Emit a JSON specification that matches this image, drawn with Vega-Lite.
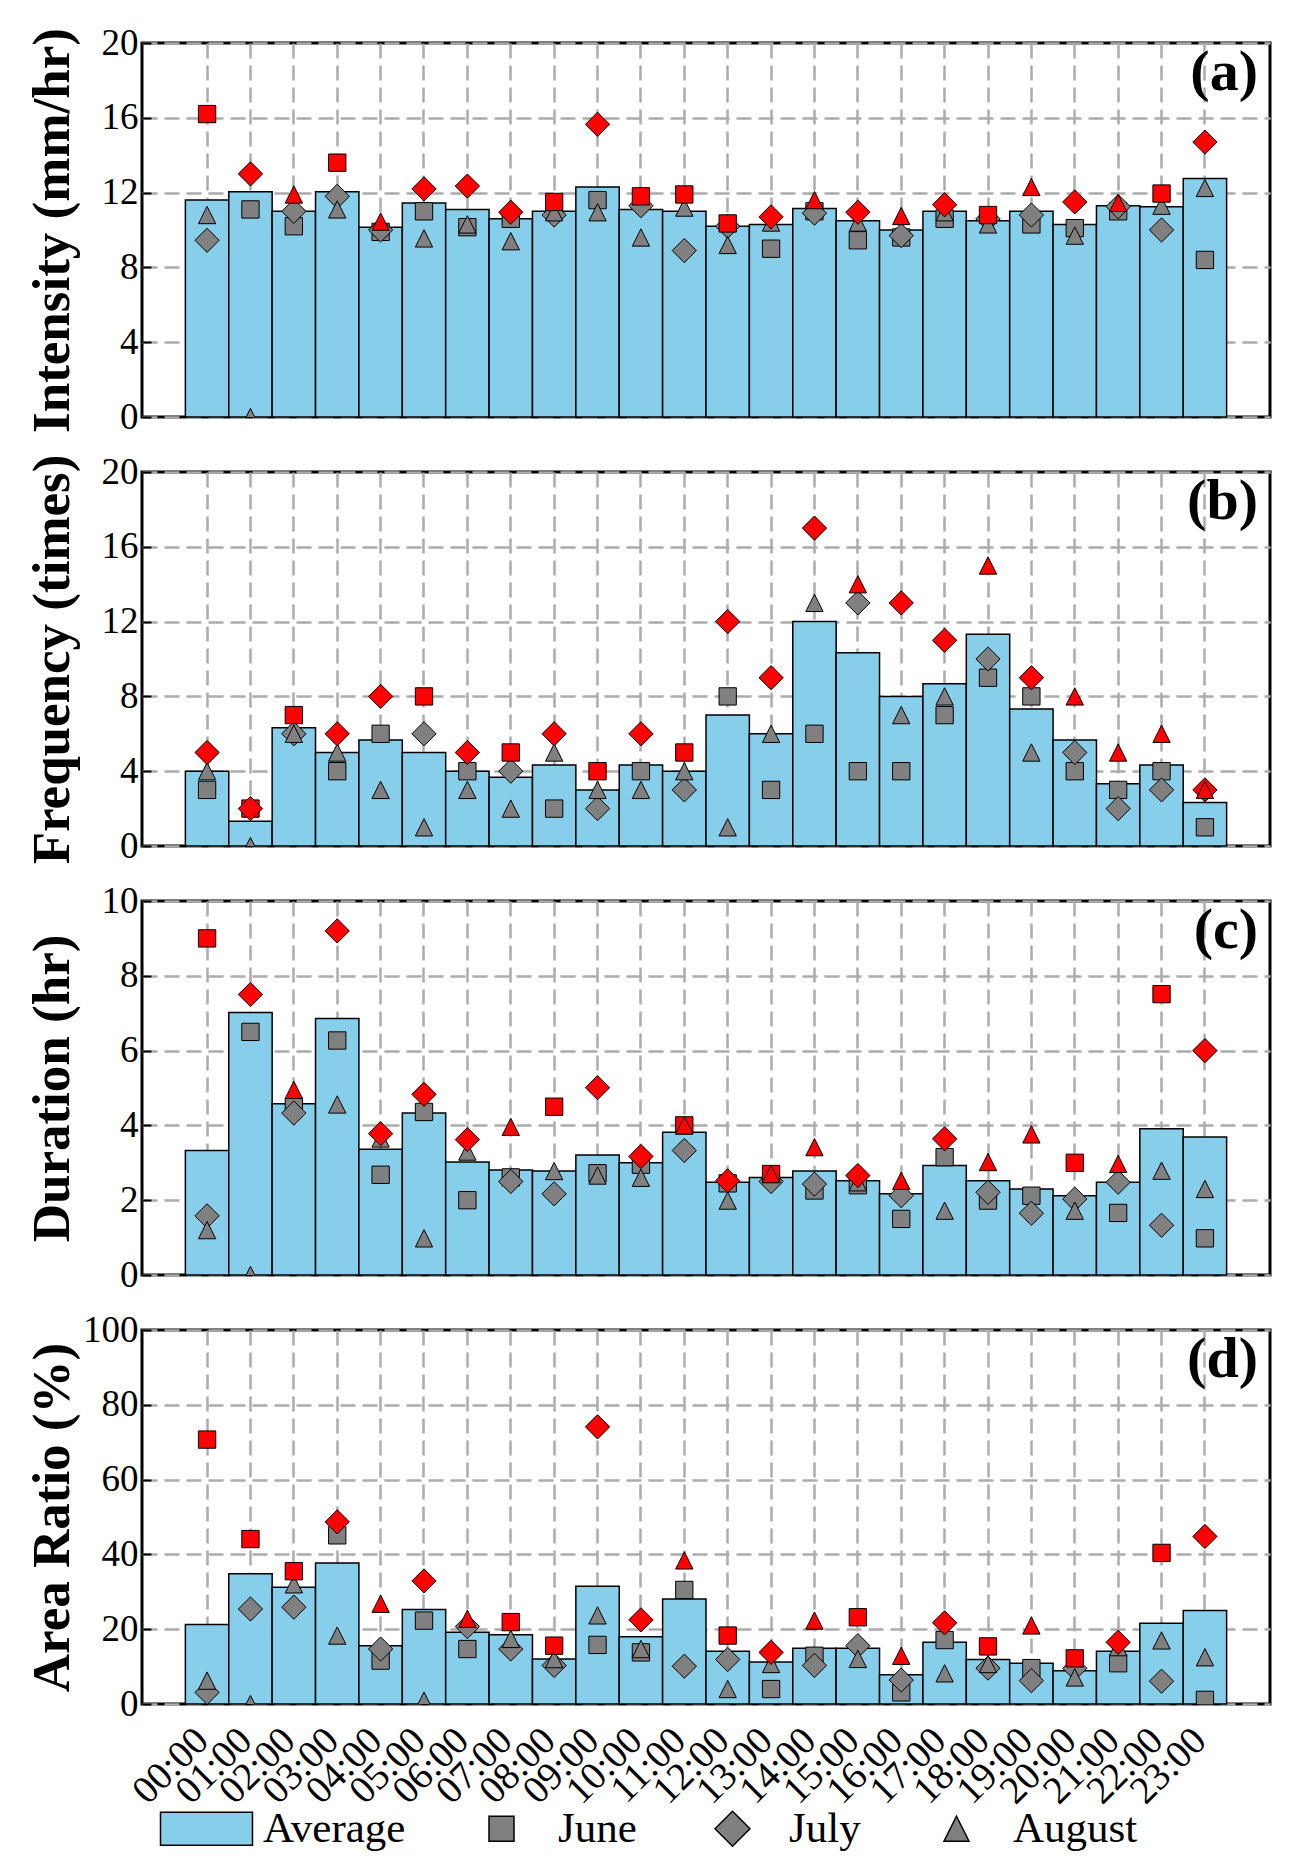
{
  "$schema": "https://vega.github.io/schema/vega-lite/v6.json",
  "padding": {"left": 24, "top": 22, "right": 5, "bottom": 5},
  "bounds": "flush",
  "spacing": 55,
  "datasets": {
    "hourly": [
      {"panel": "a", "hour": "00:00", "Average": 11.6, "June": 16.2, "July": 9.45, "August": 10.8},
      {"panel": "a", "hour": "01:00", "Average": 12.05, "June": 11.1, "July": 13.0, "August": 0.0},
      {"panel": "a", "hour": "02:00", "Average": 11.0, "June": 10.2, "July": 11.0, "August": 11.9},
      {"panel": "a", "hour": "03:00", "Average": 12.05, "June": 13.6, "July": 11.8, "August": 11.1},
      {"panel": "a", "hour": "04:00", "Average": 10.15, "June": 9.9, "July": 10.0, "August": 10.45},
      {"panel": "a", "hour": "05:00", "Average": 11.45, "June": 11.0, "July": 12.2, "August": 9.55},
      {"panel": "a", "hour": "06:00", "Average": 11.1, "June": 10.15, "July": 12.35, "August": 10.3},
      {"panel": "a", "hour": "07:00", "Average": 10.6, "June": 10.6, "July": 10.95, "August": 9.4},
      {"panel": "a", "hour": "08:00", "Average": 11.0, "June": 11.5, "July": 10.8, "August": 10.95},
      {"panel": "a", "hour": "09:00", "Average": 12.3, "June": 11.6, "July": 15.65, "August": 10.95},
      {"panel": "a", "hour": "10:00", "Average": 11.1, "June": 11.8, "July": 11.3, "August": 9.6},
      {"panel": "a", "hour": "11:00", "Average": 11.0, "June": 11.9, "July": 8.9, "August": 11.2},
      {"panel": "a", "hour": "12:00", "Average": 10.2, "June": 10.35, "July": 10.2, "August": 9.2},
      {"panel": "a", "hour": "13:00", "Average": 10.3, "June": 9.0, "July": 10.7, "August": 10.4},
      {"panel": "a", "hour": "14:00", "Average": 11.15, "June": 11.0, "July": 10.9, "August": 11.6},
      {"panel": "a", "hour": "15:00", "Average": 10.5, "June": 9.45, "July": 10.95, "August": 10.4},
      {"panel": "a", "hour": "16:00", "Average": 10.0, "June": 9.6, "July": 9.7, "August": 10.75},
      {"panel": "a", "hour": "17:00", "Average": 11.0, "June": 10.6, "July": 11.35, "August": 10.95},
      {"panel": "a", "hour": "18:00", "Average": 10.5, "June": 10.8, "July": 10.6, "August": 10.3},
      {"panel": "a", "hour": "19:00", "Average": 11.0, "June": 10.3, "July": 10.8, "August": 12.3},
      {"panel": "a", "hour": "20:00", "Average": 10.3, "June": 10.1, "July": 11.5, "August": 9.7},
      {"panel": "a", "hour": "21:00", "Average": 11.3, "June": 11.0, "July": 11.25, "August": 11.45},
      {"panel": "a", "hour": "22:00", "Average": 11.25, "June": 11.95, "July": 10.0, "August": 11.3},
      {"panel": "a", "hour": "23:00", "Average": 12.75, "June": 8.4, "July": 14.7, "August": 12.25},
      {"panel": "b", "hour": "00:00", "Average": 4.0, "June": 3, "July": 5, "August": 4},
      {"panel": "b", "hour": "01:00", "Average": 1.33, "June": 2, "July": 2, "August": 0},
      {"panel": "b", "hour": "02:00", "Average": 6.33, "June": 7, "July": 6, "August": 6},
      {"panel": "b", "hour": "03:00", "Average": 5.0, "June": 4, "July": 6, "August": 5},
      {"panel": "b", "hour": "04:00", "Average": 5.67, "June": 6, "July": 8, "August": 3},
      {"panel": "b", "hour": "05:00", "Average": 5.0, "June": 8, "July": 6, "August": 1},
      {"panel": "b", "hour": "06:00", "Average": 4.0, "June": 4, "July": 5, "August": 3},
      {"panel": "b", "hour": "07:00", "Average": 3.67, "June": 5, "July": 4, "August": 2},
      {"panel": "b", "hour": "08:00", "Average": 4.33, "June": 2, "July": 6, "August": 5},
      {"panel": "b", "hour": "09:00", "Average": 3.0, "June": 4, "July": 2, "August": 3},
      {"panel": "b", "hour": "10:00", "Average": 4.33, "June": 4, "July": 6, "August": 3},
      {"panel": "b", "hour": "11:00", "Average": 4.0, "June": 5, "July": 3, "August": 4},
      {"panel": "b", "hour": "12:00", "Average": 7.0, "June": 8, "July": 12, "August": 1},
      {"panel": "b", "hour": "13:00", "Average": 6.0, "June": 3, "July": 9, "August": 6},
      {"panel": "b", "hour": "14:00", "Average": 12.0, "June": 6, "July": 17, "August": 13},
      {"panel": "b", "hour": "15:00", "Average": 10.33, "June": 4, "July": 13, "August": 14},
      {"panel": "b", "hour": "16:00", "Average": 8.0, "June": 4, "July": 13, "August": 7},
      {"panel": "b", "hour": "17:00", "Average": 8.67, "June": 7, "July": 11, "August": 8},
      {"panel": "b", "hour": "18:00", "Average": 11.33, "June": 9, "July": 10, "August": 15},
      {"panel": "b", "hour": "19:00", "Average": 7.33, "June": 8, "July": 9, "August": 5},
      {"panel": "b", "hour": "20:00", "Average": 5.67, "June": 4, "July": 5, "August": 8},
      {"panel": "b", "hour": "21:00", "Average": 3.33, "June": 3, "July": 2, "August": 5},
      {"panel": "b", "hour": "22:00", "Average": 4.33, "June": 4, "July": 3, "August": 6},
      {"panel": "b", "hour": "23:00", "Average": 2.33, "June": 1, "July": 3, "August": 3},
      {"panel": "c", "hour": "00:00", "Average": 3.33, "June": 9.0, "July": 1.58, "August": 1.2},
      {"panel": "c", "hour": "01:00", "Average": 7.02, "June": 6.5, "July": 7.5, "August": 0},
      {"panel": "c", "hour": "02:00", "Average": 4.58, "June": 4.5, "July": 4.33, "August": 4.95},
      {"panel": "c", "hour": "03:00", "Average": 6.86, "June": 6.27, "July": 9.2, "August": 4.56},
      {"panel": "c", "hour": "04:00", "Average": 3.36, "June": 2.68, "July": 3.78, "August": 3.65},
      {"panel": "c", "hour": "05:00", "Average": 4.33, "June": 4.36, "July": 4.83, "August": 0.98},
      {"panel": "c", "hour": "06:00", "Average": 3.02, "June": 2.0, "July": 3.62, "August": 3.3},
      {"panel": "c", "hour": "07:00", "Average": 2.81, "June": 2.61, "July": 2.5, "August": 3.96},
      {"panel": "c", "hour": "08:00", "Average": 2.78, "June": 4.5, "July": 2.17, "August": 2.78},
      {"panel": "c", "hour": "09:00", "Average": 3.21, "June": 2.72, "July": 5.01, "August": 2.66},
      {"panel": "c", "hour": "10:00", "Average": 3.0, "June": 2.95, "July": 3.17, "August": 2.6},
      {"panel": "c", "hour": "11:00", "Average": 3.82, "June": 4.0, "July": 3.33, "August": 4.0},
      {"panel": "c", "hour": "12:00", "Average": 2.48, "June": 2.45, "July": 2.52, "August": 1.99},
      {"panel": "c", "hour": "13:00", "Average": 2.61, "June": 2.7, "July": 2.5, "August": 2.7},
      {"panel": "c", "hour": "14:00", "Average": 2.78, "June": 2.26, "July": 2.43, "August": 3.42},
      {"panel": "c", "hour": "15:00", "Average": 2.52, "June": 2.4, "July": 2.66, "August": 2.48},
      {"panel": "c", "hour": "16:00", "Average": 2.17, "June": 1.5, "July": 2.12, "August": 2.52},
      {"panel": "c", "hour": "17:00", "Average": 2.93, "June": 3.15, "July": 3.64, "August": 1.72},
      {"panel": "c", "hour": "18:00", "Average": 2.52, "June": 1.99, "July": 2.21, "August": 3.02},
      {"panel": "c", "hour": "19:00", "Average": 2.3, "June": 2.12, "July": 1.65, "August": 3.76},
      {"panel": "c", "hour": "20:00", "Average": 2.12, "June": 3.0, "July": 2.03, "August": 1.72},
      {"panel": "c", "hour": "21:00", "Average": 2.48, "June": 1.66, "July": 2.48, "August": 2.97},
      {"panel": "c", "hour": "22:00", "Average": 3.91, "June": 7.51, "July": 1.33, "August": 2.79},
      {"panel": "c", "hour": "23:00", "Average": 3.69, "June": 0.98, "July": 6.0, "August": 2.3},
      {"panel": "d", "hour": "00:00", "Average": 21.25, "June": 70.7, "July": 3.1, "August": 6.25},
      {"panel": "d", "hour": "01:00", "Average": 34.8, "June": 44.1, "July": 25.4, "August": 0},
      {"panel": "d", "hour": "02:00", "Average": 31.25, "June": 35.5, "July": 25.9, "August": 32.0},
      {"panel": "d", "hour": "03:00", "Average": 37.7, "June": 45.1, "July": 48.7, "August": 18.3},
      {"panel": "d", "hour": "04:00", "Average": 15.6, "June": 11.6, "July": 14.7, "August": 26.8},
      {"panel": "d", "hour": "05:00", "Average": 25.3, "June": 22.3, "July": 32.9, "August": 0.9},
      {"panel": "d", "hour": "06:00", "Average": 19.2, "June": 14.7, "July": 20.7, "August": 22.8},
      {"panel": "d", "hour": "07:00", "Average": 18.5, "June": 21.9, "July": 14.7, "August": 17.4},
      {"panel": "d", "hour": "08:00", "Average": 12.05, "June": 15.6, "July": 10.3, "August": 12.0},
      {"panel": "d", "hour": "09:00", "Average": 31.5, "June": 15.8, "July": 74.1, "August": 23.7},
      {"panel": "d", "hour": "10:00", "Average": 18.0, "June": 13.8, "July": 22.5, "August": 14.7},
      {"panel": "d", "hour": "11:00", "Average": 28.1, "June": 30.5, "July": 10.1, "August": 38.4},
      {"panel": "d", "hour": "12:00", "Average": 14.1, "June": 18.3, "July": 11.9, "August": 4.0},
      {"panel": "d", "hour": "13:00", "Average": 11.2, "June": 4.0, "July": 13.8, "August": 10.7},
      {"panel": "d", "hour": "14:00", "Average": 14.9, "June": 12.9, "July": 10.3, "August": 22.3},
      {"panel": "d", "hour": "15:00", "Average": 14.9, "June": 23.2, "July": 15.6, "August": 12.05},
      {"panel": "d", "hour": "16:00", "Average": 7.8, "June": 3.1, "July": 6.4, "August": 12.9},
      {"panel": "d", "hour": "17:00", "Average": 16.5, "June": 17.1, "July": 21.7, "August": 8.2},
      {"panel": "d", "hour": "18:00", "Average": 11.9, "June": 15.4, "July": 9.6, "August": 10.7},
      {"panel": "d", "hour": "19:00", "Average": 10.9, "June": 9.6, "July": 6.25, "August": 21.0},
      {"panel": "d", "hour": "20:00", "Average": 8.9, "June": 12.2, "July": 9.55, "August": 7.1},
      {"panel": "d", "hour": "21:00", "Average": 14.1, "June": 10.9, "July": 16.5, "August": 15.2},
      {"panel": "d", "hour": "22:00", "Average": 21.6, "June": 40.4, "July": 6.1, "August": 17.0},
      {"panel": "d", "hour": "23:00", "Average": 25.0, "June": 1.1, "July": 44.8, "August": 12.5}
    ]
  },
  "vconcat": [
    {
      "width": 1128, "height": 374,
      "title": "(a)",
      "data": {"name": "hourly"},
      "transform": [{"filter": "datum.panel == 'a'"}],
      "layer": [
        {
          "transform": [{"fold": ["Average"], "as": ["series", "value"]}],
          "mark": {"type": "bar", "stroke": "black", "strokeWidth": 1.5},
          "encoding": {
            "x": {"field": "hour", "type": "ordinal", "scale": {"paddingInner": 0, "paddingOuter": 1.2}, "axis": {"labels": false, "title": null}},
            "y": {"field": "value", "type": "quantitative", "scale": {"domain": [0, 20], "nice": false}, "axis": {"values": [0, 4, 8, 12, 16, 20], "title": "Intensity (mm/hr)"}},
            "fill": {"field": "series", "type": "nominal", "scale": {"domain": ["Average", "June", "July", "August"], "range": ["#87ceeb", "#808080", "#808080", "#808080"]}, "legend": {"title": null, "orient": "none", "legendX": 43, "legendY": 1764, "direction": "horizontal", "encode": {"symbols": {"update": {"stroke": {"value": "black"}, "strokeWidth": {"value": 1.5}}}}}}
          }
        },
        {
          "transform": [
            {"fold": ["June", "July", "August"], "as": ["series", "value"]},
            {"joinaggregate": [{"op": "max", "field": "value", "as": "top"}], "groupby": ["hour"]},
            {"calculate": "datum.value == datum.top ? 1 : 0", "as": "isMax"}
          ],
          "mark": {"type": "point", "filled": true, "opacity": 1, "size": 300, "stroke": "black", "strokeWidth": 1, "clip": true},
          "encoding": {
            "x": {"field": "hour", "type": "ordinal"},
            "y": {"field": "value", "type": "quantitative"},
            "shape": {"field": "series", "type": "nominal", "scale": {"domain": ["Average", "June", "July", "August"], "range": ["M-3.68,-1.32H3.68V1.32H-3.68Z", "M-1,-1H1V1H-1Z", "M0,-1.4L1.4,0L0,1.4L-1.4,0Z", "M0,-1L1,1L-1,1Z"]}, "legend": {"title": null, "orient": "none", "legendX": 43, "legendY": 1764, "direction": "horizontal", "encode": {"symbols": {"update": {"stroke": {"value": "black"}, "strokeWidth": {"value": 1.5}}}}}},
            "fill": {"field": "series", "type": "nominal", "legend": {"title": null, "orient": "none", "legendX": 43, "legendY": 1764, "direction": "horizontal", "encode": {"symbols": {"update": {"stroke": {"value": "black"}, "strokeWidth": {"value": 1.5}}}}}, "condition": {"test": "datum.isMax == 1", "value": "#ff0000"}},
            "order": {"field": "isMax", "type": "quantitative"}
          }
        }
      ]
    },
    {
      "width": 1128, "height": 374,
      "title": "(b)",
      "data": {"name": "hourly"},
      "transform": [{"filter": "datum.panel == 'b'"}],
      "layer": [
        {
          "transform": [{"fold": ["Average"], "as": ["series", "value"]}],
          "mark": {"type": "bar", "stroke": "black", "strokeWidth": 1.5},
          "encoding": {
            "x": {"field": "hour", "type": "ordinal", "scale": {"paddingInner": 0, "paddingOuter": 1.2}, "axis": {"labels": false, "title": null}},
            "y": {"field": "value", "type": "quantitative", "scale": {"domain": [0, 20], "nice": false}, "axis": {"values": [0, 4, 8, 12, 16, 20], "title": "Frequency (times)"}},
            "fill": {"field": "series", "type": "nominal", "legend": {"title": null, "orient": "none", "legendX": 43, "legendY": 1764, "direction": "horizontal", "encode": {"symbols": {"update": {"stroke": {"value": "black"}, "strokeWidth": {"value": 1.5}}}}}}
          }
        },
        {
          "transform": [
            {"fold": ["June", "July", "August"], "as": ["series", "value"]},
            {"joinaggregate": [{"op": "max", "field": "value", "as": "top"}], "groupby": ["hour"]},
            {"calculate": "datum.value == datum.top ? 1 : 0", "as": "isMax"}
          ],
          "mark": {"type": "point", "filled": true, "opacity": 1, "size": 300, "stroke": "black", "strokeWidth": 1, "clip": true},
          "encoding": {
            "x": {"field": "hour", "type": "ordinal"},
            "y": {"field": "value", "type": "quantitative"},
            "shape": {"field": "series", "type": "nominal", "legend": {"title": null, "orient": "none", "legendX": 43, "legendY": 1764, "direction": "horizontal", "encode": {"symbols": {"update": {"stroke": {"value": "black"}, "strokeWidth": {"value": 1.5}}}}}},
            "fill": {"field": "series", "type": "nominal", "legend": {"title": null, "orient": "none", "legendX": 43, "legendY": 1764, "direction": "horizontal", "encode": {"symbols": {"update": {"stroke": {"value": "black"}, "strokeWidth": {"value": 1.5}}}}}, "condition": {"test": "datum.isMax == 1", "value": "#ff0000"}},
            "order": {"field": "isMax", "type": "quantitative"}
          }
        }
      ]
    },
    {
      "width": 1128, "height": 374,
      "title": "(c)",
      "data": {"name": "hourly"},
      "transform": [{"filter": "datum.panel == 'c'"}],
      "layer": [
        {
          "transform": [{"fold": ["Average"], "as": ["series", "value"]}],
          "mark": {"type": "bar", "stroke": "black", "strokeWidth": 1.5},
          "encoding": {
            "x": {"field": "hour", "type": "ordinal", "scale": {"paddingInner": 0, "paddingOuter": 1.2}, "axis": {"labels": false, "title": null}},
            "y": {"field": "value", "type": "quantitative", "scale": {"domain": [0, 10], "nice": false}, "axis": {"values": [0, 2, 4, 6, 8, 10], "title": "Duration (hr)"}},
            "fill": {"field": "series", "type": "nominal", "legend": {"title": null, "orient": "none", "legendX": 43, "legendY": 1764, "direction": "horizontal", "encode": {"symbols": {"update": {"stroke": {"value": "black"}, "strokeWidth": {"value": 1.5}}}}}}
          }
        },
        {
          "transform": [
            {"fold": ["June", "July", "August"], "as": ["series", "value"]},
            {"joinaggregate": [{"op": "max", "field": "value", "as": "top"}], "groupby": ["hour"]},
            {"calculate": "datum.value == datum.top ? 1 : 0", "as": "isMax"}
          ],
          "mark": {"type": "point", "filled": true, "opacity": 1, "size": 300, "stroke": "black", "strokeWidth": 1, "clip": true},
          "encoding": {
            "x": {"field": "hour", "type": "ordinal"},
            "y": {"field": "value", "type": "quantitative"},
            "shape": {"field": "series", "type": "nominal", "legend": {"title": null, "orient": "none", "legendX": 43, "legendY": 1764, "direction": "horizontal", "encode": {"symbols": {"update": {"stroke": {"value": "black"}, "strokeWidth": {"value": 1.5}}}}}},
            "fill": {"field": "series", "type": "nominal", "legend": {"title": null, "orient": "none", "legendX": 43, "legendY": 1764, "direction": "horizontal", "encode": {"symbols": {"update": {"stroke": {"value": "black"}, "strokeWidth": {"value": 1.5}}}}}, "condition": {"test": "datum.isMax == 1", "value": "#ff0000"}},
            "order": {"field": "isMax", "type": "quantitative"}
          }
        }
      ]
    },
    {
      "width": 1128, "height": 374,
      "title": "(d)",
      "data": {"name": "hourly"},
      "transform": [{"filter": "datum.panel == 'd'"}],
      "layer": [
        {
          "transform": [{"fold": ["Average"], "as": ["series", "value"]}],
          "mark": {"type": "bar", "stroke": "black", "strokeWidth": 1.5},
          "encoding": {
            "x": {"field": "hour", "type": "ordinal", "scale": {"paddingInner": 0, "paddingOuter": 1.2}, "axis": {"title": null}},
            "y": {"field": "value", "type": "quantitative", "scale": {"domain": [0, 100], "nice": false}, "axis": {"values": [0, 20, 40, 60, 80, 100], "title": "Area Ratio (%)"}},
            "fill": {"field": "series", "type": "nominal", "legend": {"title": null, "orient": "none", "legendX": 43, "legendY": 1764, "direction": "horizontal", "encode": {"symbols": {"update": {"stroke": {"value": "black"}, "strokeWidth": {"value": 1.5}}}}}}
          }
        },
        {
          "transform": [
            {"fold": ["June", "July", "August"], "as": ["series", "value"]},
            {"joinaggregate": [{"op": "max", "field": "value", "as": "top"}], "groupby": ["hour"]},
            {"calculate": "datum.value == datum.top ? 1 : 0", "as": "isMax"}
          ],
          "mark": {"type": "point", "filled": true, "opacity": 1, "size": 300, "stroke": "black", "strokeWidth": 1, "clip": true},
          "encoding": {
            "x": {"field": "hour", "type": "ordinal"},
            "y": {"field": "value", "type": "quantitative"},
            "shape": {"field": "series", "type": "nominal", "legend": {"title": null, "orient": "none", "legendX": 43, "legendY": 1764, "direction": "horizontal", "encode": {"symbols": {"update": {"stroke": {"value": "black"}, "strokeWidth": {"value": 1.5}}}}}},
            "fill": {"field": "series", "type": "nominal", "legend": {"title": null, "orient": "none", "legendX": 43, "legendY": 1764, "direction": "horizontal", "encode": {"symbols": {"update": {"stroke": {"value": "black"}, "strokeWidth": {"value": 1.5}}}}}, "condition": {"test": "datum.isMax == 1", "value": "#ff0000"}},
            "order": {"field": "isMax", "type": "quantitative"}
          }
        }
      ]
    }
  ],
  "resolve": {"scale": {"y": "independent"}},
  "config": {
    "font": "Liberation Serif, Times New Roman, serif",
    "view": {"stroke": "black", "strokeWidth": 3},
    "style": {
      "guide-label": {"font": "Liberation Serif, Times New Roman, serif", "fill": "black"},
      "guide-title": {"font": "Liberation Serif, Times New Roman, serif", "fill": "black"}
    },
    "axis": {
      "labelFont": "Liberation Serif, Times New Roman, serif", "labelColor": "black",
      "titleFont": "Liberation Serif, Times New Roman, serif", "titleColor": "black",
      "ticks": false, "domain": false,
      "grid": true, "gridColor": "#acacac", "gridDash": [15, 7], "gridWidth": 2.5
    },
    "axisY": {
      "ticks": true, "tickSize": -9, "tickColor": "black", "tickWidth": 2,
      "labelFontSize": 37, "labelPadding": 13,
      "titleFontSize": 53, "titleFontWeight": "bold", "titlePadding": 2,
      "minExtent": 61, "maxExtent": 61
    },
    "axisX": {
      "labelFontSize": 39, "labelAngle": -45, "labelAlign": "right", "labelBaseline": "middle",
      "labelPadding": 30, "labelOffset": -5
    },
    "legend": {
      "labelFont": "Liberation Serif, Times New Roman, serif", "labelFontSize": 43, "labelColor": "black",
      "labelOffset": 35, "columnPadding": 74,
      "symbolSize": 625, "symbolStrokeColor": "black", "symbolStrokeWidth": 1.5, "symbolOpacity": 1
    },
    "title": {
      "font": "Liberation Serif, Times New Roman, serif", "fontSize": 58, "fontWeight": "bold", "color": "black",
      "anchor": "end", "frame": "group", "offset": -78, "dx": -12
    }
  }
}
